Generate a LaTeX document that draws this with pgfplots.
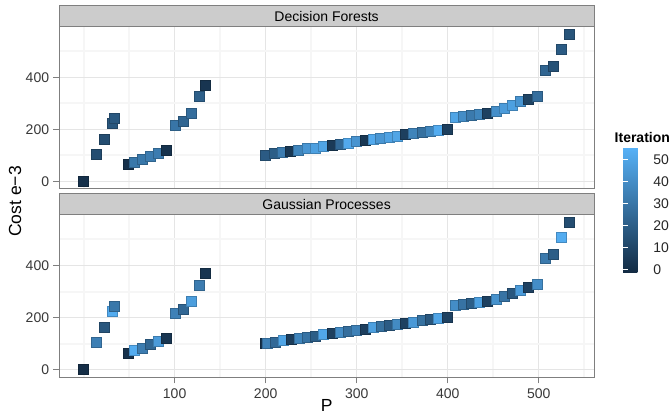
\documentclass[border=0pt]{standalone}
\usepackage{pgfplots}
\pgfplotsset{compat=1.18}
\usepackage{fontspec}
\setmainfont{Liberation Sans}
\definecolor{gridmaj}{HTML}{E5E5E5}
\definecolor{gridmin}{HTML}{F6F6F6}
\definecolor{bordercol}{HTML}{7F7F7F}
\definecolor{stripfill}{HTML}{CCCCCC}
\definecolor{ticktext}{HTML}{383838}
\newcommand\tickfont{\fontsize{14}{16}\selectfont}
\newcommand\titlefont{\fontsize{17.5}{20}\selectfont}
\pgfplotsset{
  panel/.style={
    scale only axis, width=534.7pt, height=162pt,
    xmin=-26.7, xmax=560.7, ymin=-28.3, ymax=594.3,
    point meta min=-1.4, point meta max=55.6,
    colormap={gg}{rgb255=(19,43,67) rgb255=(86,177,247)},
    xtick={100,200,300,400,500},
    minor xtick={0,50,150,250,350,450,550},
    ytick={0,200,400},
    minor ytick={100,300,500},
    grid=both,
    major grid style={gridmaj, line width=1.1pt},
    minor grid style={gridmin, line width=2pt},
    axis line style={bordercol, line width=1pt},
    tick pos=left,
    tick align=outside,
    major tick length=6pt,
    minor tick length=0pt,
    tick style={bordercol, line width=1pt},
    tick label style={font=\tickfont, color=ticktext},
    /pgf/number format/assume math mode=true,
    xticklabel style={inner sep=0pt, yshift=-5.5pt},
    yticklabel style={inner sep=0pt, xshift=-4pt},
  },
  sq/.style={scatter, only marks, mark=square*, mark size=5pt,
    scatter src=explicit, mark options={line width=0pt}},
}
\begin{document}
\begin{tikzpicture}[x=1pt,y=1pt]
\useasboundingbox (0,0) rectangle (672,415);
\begin{axis}[panel, at={(59.3pt,226.3pt)}, anchor=south west,
  xticklabels={}, xtick style={draw=none},
  colorbar,
  colorbar style={
    at={(parent axis.south east)}, anchor=south west,
    xshift=20.7pt, yshift=-83.6pt,
    scale only axis, width=25pt, height=124.6pt,
    ytick={0,10,20,30,40,50},
    ytick pos=both, yticklabel pos=right,
    tick align=inside, major tick length=5pt,
    ytick style={white, line width=1pt},
    axis line style={draw=none},
    /pgf/number format/assume math mode=true,
    yticklabel style={font=\tickfont, color=black!85, inner sep=0pt, xshift=5pt},
  }]
\addplot[sq] table[x=P, y=C, meta=I] {
P C I
0 0 1
14.3 105 13
23 160.5 13
31.5 223.5 17
34 243 18
49.5 64.5 1
56 73 31
64.8 83.5 31
73.6 96 33
82.4 108.5 33
90.8 120 2
101 215.5 30
109.9 229.5 23
118.7 262 27
127.5 325 21
133.7 368.5 3
200 99.5 19
209.9 106.5 20
218.3 111 33
227.5 115.5 4
236.6 119.5 37
245.8 124.3 44
255 127.6 48
264 134 50
272.9 138.4 5
282 142.3 25
291.2 147 52
299.6 151.2 43
309.5 155.7 4
318 161 52
326.4 164.8 44
335.5 168.2 49
344.3 172.8 50
353.8 179.2 7
362.6 183 36
371.8 188.3 28
381 192.2 37
390 195.2 53
399.6 199.5 7
408.5 245 50
417.3 249 40
426 253 32
434.8 256.5 37
443.6 262 8
453.5 268.5 41
462.3 281 46
471 293 48
479.9 305 43
488.7 316 9
498.5 327 27
507.4 425 23
516.5 441.5 15
525.3 505.5 19
534 566 16
};
\end{axis}
\begin{axis}[panel, at={(59.3pt,37.7pt)}, anchor=south west, height=162.6pt]
\addplot[sq] table[x=P, y=C, meta=I] {
P C I
0 0 0
14.3 105 34
23 160.5 17
31.5 223.5 53
34 243 31
49.5 64.5 1
56 73 53
64.8 83.5 33
73.6 96 24
82.4 108.5 46
90.8 120 3
101 215.5 35
109.9 229.5 24
118.7 262 47
127.5 325 33
133.7 368.5 3
199.6 99.5 2
201.5 99.5 35
210.5 106.5 25
219.3 111 50
228.2 115.5 6
237 119.5 37
245.8 124.3 29
254.9 127.6 20
264 134 51
273.1 138.4 7
282 142.3 40
291 147 27
299.8 151.2 35
309.2 155.7 7
318 161 48
326.8 164.8 28
335.8 168.2 19
344.8 172.8 39
354.1 179.2 8
362.7 183 45
371.9 188.3 28
380.8 192.2 17
389.9 195.2 50
399.5 199.5 8
408.5 245 40
417.3 249 29
426 253 20
434.8 256.5 48
443.6 262 8
453.5 268.5 42
462.3 281 29
471 293 17
479.9 305 46
488.7 316 8
498.5 327 40
507.4 425 32
516.5 441.5 20
525.3 505.5 53
534 566 13
};
\end{axis}
% facet strips
\draw[bordercol, fill=stripfill, line width=1pt] (59.3,388.3) rectangle (594,409.3);
\node[font=\tickfont, text=black] at (326.6,398.8) {Decision Forests};
\draw[bordercol, fill=stripfill, line width=1pt] (59.3,200.3) rectangle (594,221.7);
\node[font=\tickfont, text=black] at (326.6,211) {Gaussian Processes};
% axis titles
\node[font=\titlefont, rotate=90] at (15,213.5) {Cost e−3};
\node[font=\titlefont, anchor=base] at (326.6,3.5) {P};
\node[font=\bfseries\tickfont, anchor=base west, inner sep=0pt] at (614.5,272.5) {Iteration};
\end{tikzpicture}
\end{document}
